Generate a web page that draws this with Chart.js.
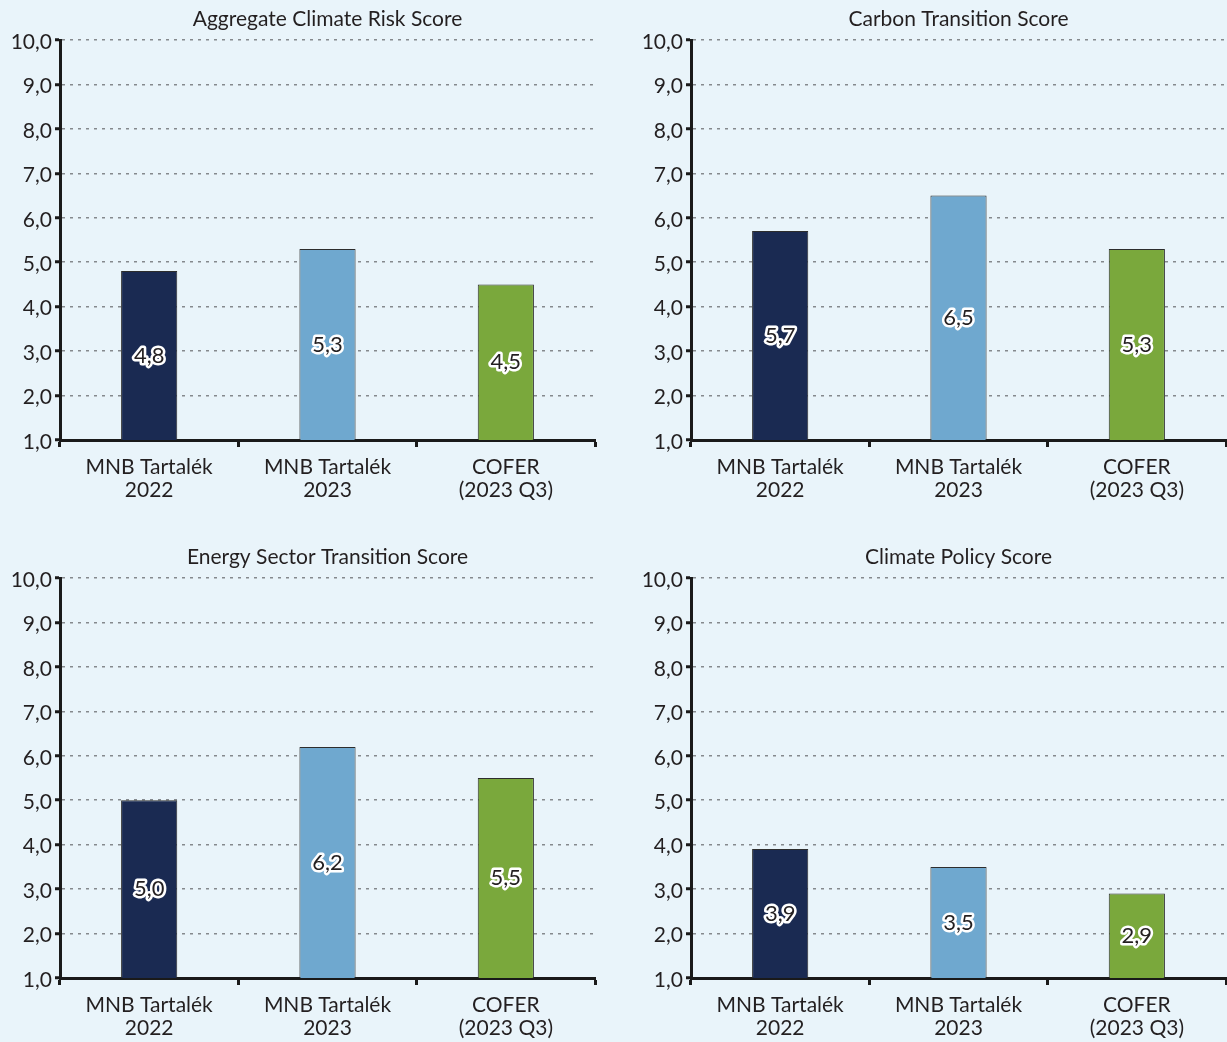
<!DOCTYPE html>
<html>
<head>
<meta charset="utf-8">
<script src="https://cdn.jsdelivr.net/npm/chart.js@4"></script>
<style>
  html, body { margin: 0; padding: 0; width: 1227px; height: 1042px; overflow: hidden; background: #e9f4fa; }
  .panel { position: absolute; width: 613px; height: 520px; }
  .panel canvas { display: block; }
</style>
</head>
<body>
<div class="panel" style="left:0;top:0"><canvas id="c1"></canvas></div>
<div class="panel" style="left:631px;top:0"><canvas id="c2"></canvas></div>
<div class="panel" style="left:0;top:538px"><canvas id="c3"></canvas></div>
<div class="panel" style="left:631px;top:538px"><canvas id="c4"></canvas></div>
<script>
// Categories shared by all four panels
const categories = [["MNB Tartalék", "2022"], ["MNB Tartalék", "2023"], ["COFER", "(2023 Q3)"]];

// Panel titles
const panelTitles = ["Aggregate Climate Risk Score", "Carbon Transition Score", "Energy Sector Transition Score", "Climate Policy Score"];

// Scores per panel
const aggregateScores = [4.8, 5.3, 4.5];
const carbonScores = [5.7, 6.5, 5.3];
const energyScores = [5.0, 6.2, 5.5];
const policyScores = [3.9, 3.5, 2.9];

// Value axis range
const yMin = 1;
const yMax = 10;
const yStep = 1;

const barColors = ["#1a2a52", "#6fa8cf", "#7aa83c"];
const textColor = "#231f20";
const fontFamily = "Lato, 'Open Sans', sans-serif";

const fmt = v => Number(v).toFixed(1).replace(".", ",");

// Title centred over the plot area
const panelTitlePlugin = {
  id: "panelTitle",
  afterDraw(chart, args, opts) {
    const { ctx, chartArea } = chart;
    ctx.save();
    ctx.font = "21px " + fontFamily;
    ctx.fillStyle = textColor;
    ctx.textAlign = "center";
    ctx.textBaseline = "middle";
    ctx.fillText(opts.text, (chartArea.left + chartArea.right) / 2, chartArea.top - 21);
    ctx.restore();
  }
};

// Value labels with a white halo, centred inside the visible part of each bar
const barValuePlugin = {
  id: "barValue",
  afterDatasetsDraw(chart) {
    const { ctx, chartArea } = chart;
    const meta = chart.getDatasetMeta(0);
    const data = chart.data.datasets[0].data;
    ctx.save();
    ctx.font = "22px " + fontFamily;
    ctx.textAlign = "center";
    ctx.textBaseline = "middle";
    ctx.lineJoin = "round";
    meta.data.forEach((bar, i) => {
      const label = fmt(data[i]);
      const bottom = Math.min(bar.base, chartArea.bottom);
      const cy = (bar.y + bottom) / 2;
      ctx.lineWidth = 5;
      ctx.strokeStyle = "#ffffff";
      ctx.strokeText(label, bar.x, cy);
      ctx.fillStyle = textColor;
      ctx.fillText(label, bar.x, cy);
    });
    ctx.restore();
  }
};

function makePanel(id, title, values) {
  new Chart(document.getElementById(id), {
    type: "bar",
    data: {
      labels: categories,
      datasets: [{
        data: values,
        backgroundColor: barColors,
        borderColor: "#2d2d2d",
        borderWidth: 1,
        categoryPercentage: 1,
        barPercentage: 0.315
      }]
    },
    options: {
      responsive: true,
      maintainAspectRatio: false,
      animation: false,
      devicePixelRatio: 1,
      layout: { padding: { top: 40, right: 18, bottom: 0, left: 0 } },
      plugins: {
        legend: { display: false },
        tooltip: { enabled: false },
        title: { display: false },
        panelTitle: { text: title }
      },
      scales: {
        x: {
          offset: true,
          grid: {
            offset: true,
            drawOnChartArea: false,
            drawTicks: true,
            tickLength: 7,
            tickColor: "#1a1a1a",
            tickWidth: 3
          },
          border: { display: true, color: "#1a1a1a", width: 3 },
          ticks: {
            color: textColor,
            padding: 9,
            font: { family: fontFamily, size: 21, lineHeight: 1.1 },
            maxRotation: 0,
            autoSkip: false
          },
          afterFit(scale) { scale.height = 80; }
        },
        y: {
          min: yMin,
          max: yMax,
          ticks: {
            stepSize: yStep,
            color: textColor,
            padding: 3,
            labelOffset: 2,
            font: { family: fontFamily, size: 21 },
            callback: v => fmt(v)
          },
          grid: {
            color: "#85898d",
            lineWidth: 1.5,
            drawTicks: true,
            tickLength: 5,
            tickColor: "#1a1a1a",
            tickWidth: 3,
            tickBorderDash: []
          },
          border: { display: true, color: "#1a1a1a", width: 3, dash: [3, 5] },
          afterFit(scale) { scale.width = 60; }
        }
      }
    },
    plugins: [panelTitlePlugin, barValuePlugin]
  });
}

makePanel("c1", panelTitles[0], aggregateScores);
makePanel("c2", panelTitles[1], carbonScores);
makePanel("c3", panelTitles[2], energyScores);
makePanel("c4", panelTitles[3], policyScores);
</script>
</body>
</html>
